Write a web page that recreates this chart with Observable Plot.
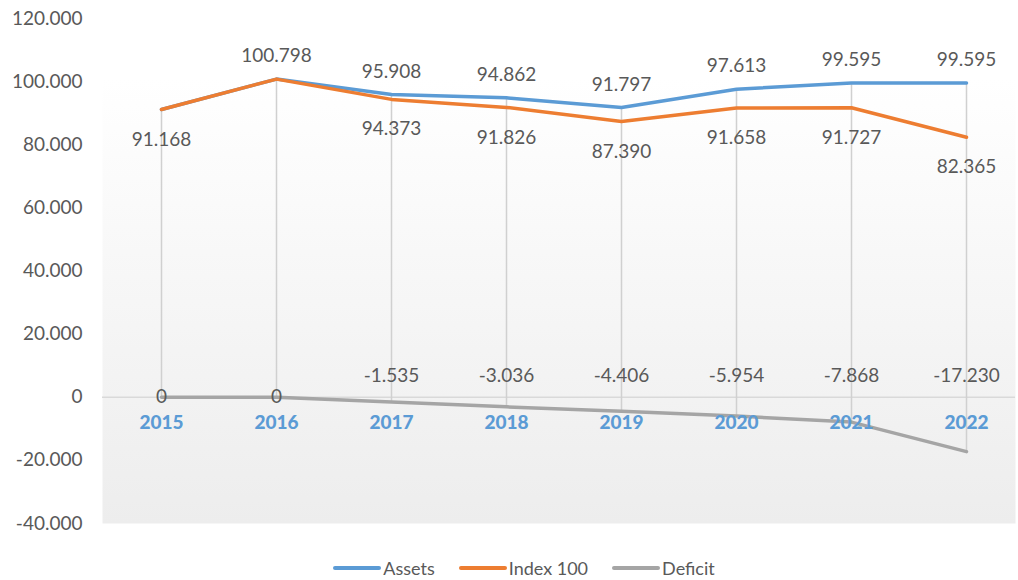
<!DOCTYPE html>
<html>
<head>
<meta charset="utf-8">
<script src="https://cdn.jsdelivr.net/npm/d3@7"></script>
<script src="https://cdn.jsdelivr.net/npm/@observablehq/plot@0.6"></script>
<style>
  body { margin: 0; background: #fff; font-family: Lato, "Open Sans", sans-serif; }
  #legend { display: flex; justify-content: center; align-items: center; gap: 24px; padding-left: 30px; padding-top: 10px; height: 25px; font-size: 18px; color: #595959; }
  .item { display: flex; align-items: center; gap: 2px; }
  .sw { width: 48px; height: 4px; border-radius: 2px; }
</style>
</head>
<body>
<div id="chart"></div>
<div id="legend"></div>
<script>
const years = ["2015", "2016", "2017", "2018", "2019", "2020", "2021", "2022"];
const assets = [91168, 100798, 95908, 94862, 91797, 97613, 99595, 99595];
const index100 = [91168, 100798, 94373, 91826, 87390, 91658, 91727, 82365];
const deficit = [0, 0, -1535, -3036, -4406, -5954, -7868, -17230];
const assetsLabelShown = [false, true, true, true, true, true, true, true];
const indexLabelShown = [true, false, true, true, true, true, true, true];
const yTicks = [-40000, -20000, 0, 20000, 40000, 60000, 80000, 100000, 120000];
const seriesNames = ["Assets", "Index 100", "Deficit"];
const seriesColors = ["#5b9bd5", "#ed7d31", "#a5a5a5"];

const fmt = d3.formatLocale({decimal: ",", thousands: ".", grouping: [3], currency: ["", ""], minus: "-"}).format(",d");

const rows = years.map((y, i) => ({year: y, assets: assets[i], index: index100[i], deficit: deficit[i], i}));

const plot = Plot.plot({
  width: 1018,
  height: 545,
  marginLeft: 102,
  marginRight: 3,
  marginTop: 18,
  marginBottom: 22,
  style: {fontFamily: "Lato, 'Open Sans', sans-serif", fontSize: "19px", color: "#595959", background: "transparent"},
  x: {type: "point", domain: years, range: [160, 967], padding: 0, axis: null},
  y: {domain: [-40000, 120000], ticks: yTicks, tickFormat: fmt, tickSize: 0, tickPadding: 20, label: null},
  marks: [
    Plot.frame({fill: "url(#bg)", stroke: "none"}),
    Plot.ruleY([0], {stroke: "#d9d9d9", strokeWidth: 1.5}),
    Plot.ruleX(rows, {x: "year", y1: "assets", y2: "deficit", stroke: "#d0d0d0", strokeWidth: 1.5}),
    Plot.line(rows, {x: "year", y: "assets", stroke: seriesColors[0], strokeWidth: 3.5}),
    Plot.line(rows, {x: "year", y: "index", stroke: seriesColors[1], strokeWidth: 3.5}),
    Plot.line(rows, {x: "year", y: "deficit", stroke: seriesColors[2], strokeWidth: 3.5}),
    Plot.text(rows.filter(d => assetsLabelShown[d.i]), {x: "year", y: "assets", text: d => fmt(d.assets), dy: -23, fill: "#595959"}),
    Plot.text(rows.filter(d => indexLabelShown[d.i]), {x: "year", y: "index", text: d => fmt(d.index), dy: 30, fill: "#595959"}),
    Plot.text(rows, {x: "year", y: 0, text: d => fmt(d.deficit), fill: "#595959", filter: d => d.deficit === 0}),
    Plot.text(rows, {x: "year", y: 0, text: d => fmt(d.deficit), dy: -21, fill: "#595959", filter: d => d.deficit !== 0}),
    Plot.text(years, {x: d => d, y: 0, text: d => d, dy: 26, fill: "#5b9bd5", fontWeight: 900, fontSize: 19})
  ]
});

const svg = d3.select(plot);
const defs = svg.insert("defs", ":first-child");
const g = defs.append("linearGradient").attr("id", "bg").attr("x1", 0).attr("x2", 0).attr("y1", 0).attr("y2", 1);
g.append("stop").attr("offset", "0%").attr("stop-color", "#ffffff");
g.append("stop").attr("offset", "12%").attr("stop-color", "#ffffff");
g.append("stop").attr("offset", "100%").attr("stop-color", "#ededed");

document.getElementById("chart").appendChild(plot);

const legend = document.getElementById("legend");
seriesNames.forEach((n, i) => {
  const it = document.createElement("div");
  it.className = "item";
  const sw = document.createElement("div");
  sw.className = "sw";
  sw.style.background = seriesColors[i];
  const t = document.createElement("span");
  t.textContent = n;
  it.appendChild(sw); it.appendChild(t);
  legend.appendChild(it);
});
</script>
</body>
</html>
